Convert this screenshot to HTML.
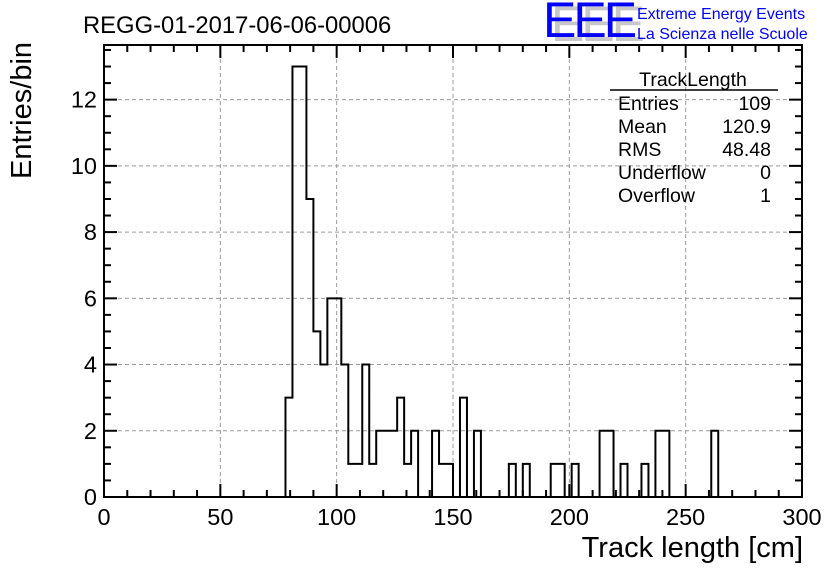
<!DOCTYPE html>
<html><head><meta charset="utf-8"><style>
body{margin:0;background:#fff;}
svg text{font-family:"Liberation Sans",Arial,sans-serif;}
</style></head><body>
<svg id="c" width="836" height="572" xmlns="http://www.w3.org/2000/svg">
<rect width="836" height="572" fill="#fff"/>
<text x="83" y="33" font-size="23.8">REGG-01-2017-06-06-00006</text>
<g>
<text x="551" y="41" font-size="50" fill="#c8c8c8" letter-spacing="-3">EEE</text>
<text x="543" y="37" font-size="50" fill="#0000ff" letter-spacing="-3">EEE</text>
<text x="637" y="19" font-size="16" fill="#0000ff">Extreme Energy Events</text>
<text x="637" y="39" font-size="16" fill="#0000ff">La Scienza nelle Scuole</text>
</g>
<g id="grid"></g>
<g id="hist"></g>
<g id="axes"></g>
<text x="803" y="557" font-size="29" text-anchor="end">Track length [cm]</text>
<text transform="translate(31,179) rotate(-90)" font-size="29" text-anchor="start">Entries/bin</text>
<g font-size="19.5">
<text x="693" y="86" text-anchor="middle">TrackLength</text>
<line x1="610" y1="90" x2="778" y2="90" stroke="#000" stroke-width="1.5"/>
<text x="618" y="110">Entries</text><text x="771" y="110" text-anchor="end">109</text>
<text x="618" y="133">Mean</text><text x="771" y="133" text-anchor="end">120.9</text>
<text x="618" y="156">RMS</text><text x="771" y="156" text-anchor="end">48.48</text>
<text x="618" y="179">Underflow</text><text x="771" y="179" text-anchor="end">0</text>
<text x="618" y="202">Overflow</text><text x="771" y="202" text-anchor="end">1</text>
</g>
</svg>
<script>
const binWidth = 3;
const binStarts = [78,81,84,87,90,93,96,99,102,105,108,111,114,117,120,123,126,129,132,141,144,147,153,159,174,180,192,195,201,213,216,222,231,237,240,261];
const binCounts = [3,13,13,9,5,4,6,6,4,1,1,4,1,2,2,2,3,1,2,2,1,1,3,2,1,1,1,1,1,2,2,1,1,2,2,2];
const xTicks = [0,50,100,150,200,250,300];
const yTicks = [0,2,4,6,8,10,12];
const X0=104,X1=802,Y0=497,Y1=45,XMAX=300,YMAX=13.65;
const sx=v=>X0+(X1-X0)*v/XMAX;
const sy=v=>Y0-(Y0-Y1)*v/YMAX;
const NS="http://www.w3.org/2000/svg";
function mk(t,a,p){const e=document.createElementNS(NS,t);for(const k in a)e.setAttribute(k,a[k]);p.appendChild(e);return e;}
const grid=document.getElementById('grid'),axes=document.getElementById('axes'),hist=document.getElementById('hist');
xTicks.forEach(v=>{if(v>0&&v<XMAX){const l=mk('line',{x1:sx(v),x2:sx(v),y1:Y0,y2:Y1,stroke:'#999','stroke-dasharray':'4,3'},grid);

}});
yTicks.forEach(v=>{if(v>0){const l=mk('line',{x1:X0,x2:X1,y1:sy(v),y2:sy(v),stroke:'#999','stroke-dasharray':'4,3'},grid);

}});
const full=new Array(XMAX/binWidth).fill(0);
binStarts.forEach((s,i)=>{full[Math.round(s/binWidth)]=binCounts[i];});
let d='M'+sx(0)+','+sy(0);
full.forEach((c,i)=>{d+=' L'+sx(i*binWidth)+','+sy(c)+' L'+sx((i+1)*binWidth)+','+sy(c);});
d+=' L'+sx(XMAX)+','+sy(0);
const p=mk('path',{d:d,fill:'none',stroke:'#000','stroke-width':2},hist);


const fr=mk('rect',{x:X0,y:Y1,width:X1-X0,height:Y0-Y1,fill:'none',stroke:'#000','stroke-width':2},axes);


for(let v=0;v<=XMAX;v+=10){const L=(v%50===0)?13:7;
mk('line',{x1:sx(v),x2:sx(v),y1:Y0,y2:Y0-L,stroke:'#000','stroke-width':2},axes);
mk('line',{x1:sx(v),x2:sx(v),y1:Y1,y2:Y1+L,stroke:'#000','stroke-width':2},axes);}
for(let v=0;v<=YMAX;v+=0.5){const L=(v%2===0)?13:7;
mk('line',{x1:X0,x2:X0+L,y1:sy(v),y2:sy(v),stroke:'#000','stroke-width':2},axes);
mk('line',{x1:X1,x2:X1-L,y1:sy(v),y2:sy(v),stroke:'#000','stroke-width':2},axes);}
xTicks.forEach(v=>{const t=mk('text',{x:sx(v),y:525,'font-size':23.5,'text-anchor':'middle'},axes);t.textContent=v;

});
yTicks.forEach(v=>{const t=mk('text',{x:97,y:sy(v)+8,'font-size':23.5,'text-anchor':'end'},axes);t.textContent=v;

});
</script>
</body></html>
